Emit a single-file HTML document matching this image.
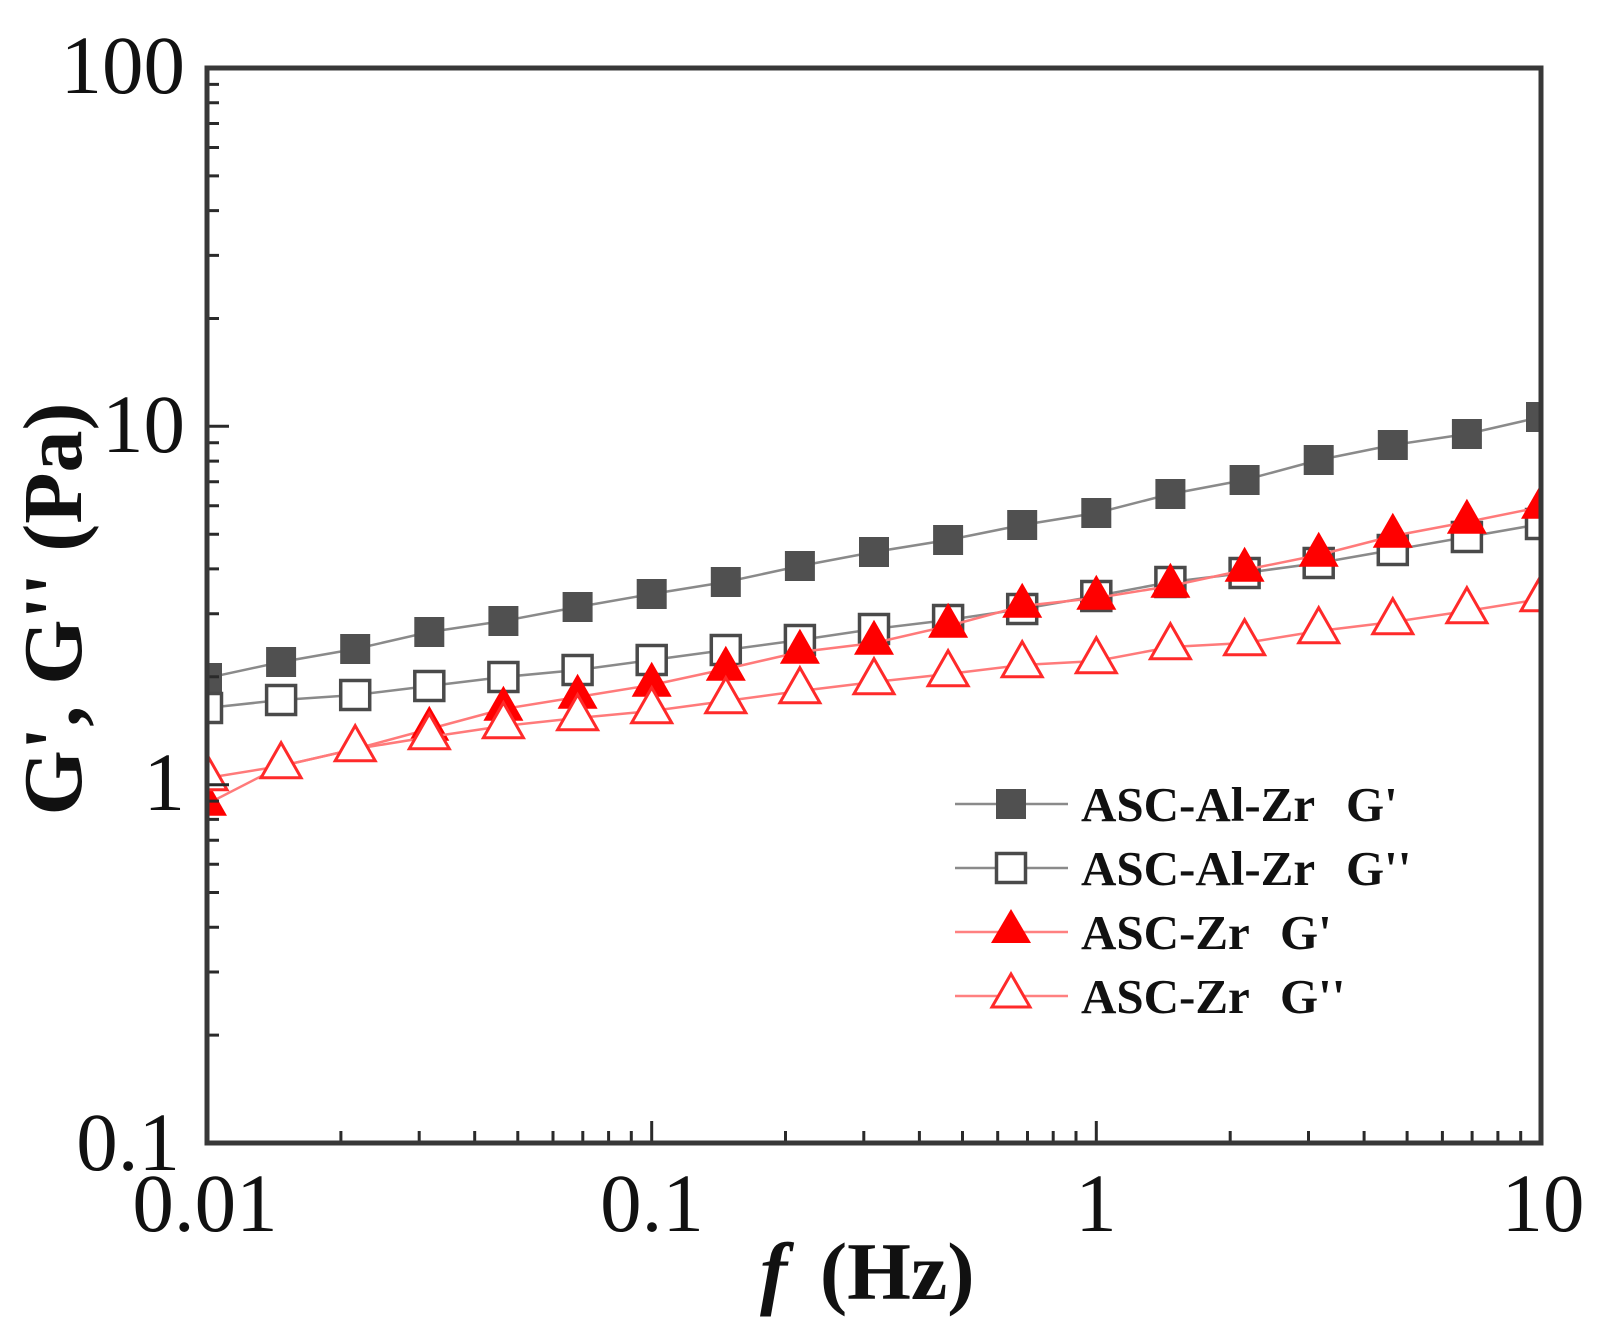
<!DOCTYPE html>
<html>
<head>
<meta charset="utf-8">
<style>
  html,body{margin:0;padding:0;background:#fff;}
  svg{display:block;}
  .tick{font-family:"Liberation Serif","Times New Roman",serif;font-size:83px;fill:#111;}
  .lab{font-family:"Liberation Serif","Times New Roman",serif;font-weight:bold;fill:#111;}
  .leg{font-family:"Liberation Serif","Times New Roman",serif;font-weight:bold;font-size:49px;fill:#111;}
</style>
</head>
<body>
<svg width="1612" height="1332" viewBox="0 0 1612 1332" xmlns="http://www.w3.org/2000/svg" xmlns:xlink="http://www.w3.org/1999/xlink">
  <rect width="1612" height="1332" fill="#fff"/>
  <defs>
    <clipPath id="pa"><rect x="207" y="68" width="1334" height="1075"/></clipPath>
    <rect id="fsq" x="-15" y="-15" width="30" height="30" fill="#505050"/>
    <rect id="osq" x="-14.5" y="-14.5" width="29" height="29" fill="#fff" stroke="#4a4a4a" stroke-width="3.5"/>
    <polygon id="ftr" points="0,-23.3 20,11.7 -20,11.7" fill="#ff0000"/>
    <polygon id="otr" points="0,-23.3 20,11.7 -20,11.7" fill="#fff" stroke="#ff2a2a" stroke-width="3"/>
  </defs>

  <g clip-path="url(#pa)">
    <polyline fill="none" stroke="#8a8a8a" stroke-width="2.5" points="207,678 281.1,662 355.2,649 429.3,632 503.4,621 577.6,607 651.7,594 725.8,582 799.9,566 874,552 948.1,540 1022.2,525 1096.3,513 1170.4,494 1244.6,480 1318.7,460 1392.8,445 1466.9,434 1541,417"/>
    <use xlink:href="#fsq" x="207" y="678"/>
    <use xlink:href="#fsq" x="281.1" y="662"/>
    <use xlink:href="#fsq" x="355.2" y="649"/>
    <use xlink:href="#fsq" x="429.3" y="632"/>
    <use xlink:href="#fsq" x="503.4" y="621"/>
    <use xlink:href="#fsq" x="577.6" y="607"/>
    <use xlink:href="#fsq" x="651.7" y="594"/>
    <use xlink:href="#fsq" x="725.8" y="582"/>
    <use xlink:href="#fsq" x="799.9" y="566"/>
    <use xlink:href="#fsq" x="874" y="552"/>
    <use xlink:href="#fsq" x="948.1" y="540"/>
    <use xlink:href="#fsq" x="1022.2" y="525"/>
    <use xlink:href="#fsq" x="1096.3" y="513"/>
    <use xlink:href="#fsq" x="1170.4" y="494"/>
    <use xlink:href="#fsq" x="1244.6" y="480"/>
    <use xlink:href="#fsq" x="1318.7" y="460"/>
    <use xlink:href="#fsq" x="1392.8" y="445"/>
    <use xlink:href="#fsq" x="1466.9" y="434"/>
    <use xlink:href="#fsq" x="1541" y="417"/>

    <polyline fill="none" stroke="#8a8a8a" stroke-width="2.5" points="207,708 281.1,700 355.2,695 429.3,686 503.4,677 577.6,670 651.7,660 725.8,650 799.9,640 874,629 948.1,620 1022.2,609 1096.3,596 1170.4,582 1244.6,573 1318.7,563 1392.8,550 1466.9,537 1541,524"/>
    <use xlink:href="#osq" x="207" y="708"/>
    <use xlink:href="#osq" x="281.1" y="700"/>
    <use xlink:href="#osq" x="355.2" y="695"/>
    <use xlink:href="#osq" x="429.3" y="686"/>
    <use xlink:href="#osq" x="503.4" y="677"/>
    <use xlink:href="#osq" x="577.6" y="670"/>
    <use xlink:href="#osq" x="651.7" y="660"/>
    <use xlink:href="#osq" x="725.8" y="650"/>
    <use xlink:href="#osq" x="799.9" y="640"/>
    <use xlink:href="#osq" x="874" y="629"/>
    <use xlink:href="#osq" x="948.1" y="620"/>
    <use xlink:href="#osq" x="1022.2" y="609"/>
    <use xlink:href="#osq" x="1096.3" y="596"/>
    <use xlink:href="#osq" x="1170.4" y="582"/>
    <use xlink:href="#osq" x="1244.6" y="573"/>
    <use xlink:href="#osq" x="1318.7" y="563"/>
    <use xlink:href="#osq" x="1392.8" y="550"/>
    <use xlink:href="#osq" x="1466.9" y="537"/>
    <use xlink:href="#osq" x="1541" y="524"/>

    <polyline fill="none" stroke="#ff7a7a" stroke-width="2.5" points="207,804 281.1,766 355.2,749 429.3,729 503.4,709 577.6,697 651.7,685 725.8,669 799.9,652 874,643 948.1,626 1022.2,606 1096.3,598 1170.4,586 1244.6,570 1318.7,555 1392.8,536 1466.9,522 1541,507"/>
    <use xlink:href="#ftr" x="207" y="804"/>
    <use xlink:href="#ftr" x="429.3" y="729"/>
    <use xlink:href="#ftr" x="503.4" y="709"/>
    <use xlink:href="#ftr" x="577.6" y="697"/>
    <use xlink:href="#ftr" x="651.7" y="685"/>
    <use xlink:href="#ftr" x="725.8" y="669"/>
    <use xlink:href="#ftr" x="799.9" y="652"/>
    <use xlink:href="#ftr" x="874" y="643"/>
    <use xlink:href="#ftr" x="948.1" y="626"/>
    <use xlink:href="#ftr" x="1022.2" y="606"/>
    <use xlink:href="#ftr" x="1096.3" y="598"/>
    <use xlink:href="#ftr" x="1170.4" y="586"/>
    <use xlink:href="#ftr" x="1244.6" y="570"/>
    <use xlink:href="#ftr" x="1318.7" y="555"/>
    <use xlink:href="#ftr" x="1392.8" y="536"/>
    <use xlink:href="#ftr" x="1466.9" y="522"/>
    <use xlink:href="#ftr" x="1541" y="507"/>

    <polyline fill="none" stroke="#ff7a7a" stroke-width="2.5" points="207,778 281.1,766 355.2,749 429.3,737 503.4,726 577.6,718 651.7,711 725.8,701 799.9,691 874,682 948.1,674 1022.2,665 1096.3,661 1170.4,647 1244.6,643 1318.7,631 1392.8,622 1466.9,611 1541,599"/>
    <use xlink:href="#otr" x="207" y="778"/>
    <use xlink:href="#otr" x="281.1" y="766"/>
    <use xlink:href="#otr" x="355.2" y="749"/>
    <use xlink:href="#otr" x="429.3" y="737"/>
    <use xlink:href="#otr" x="503.4" y="726"/>
    <use xlink:href="#otr" x="577.6" y="718"/>
    <use xlink:href="#otr" x="651.7" y="711"/>
    <use xlink:href="#otr" x="725.8" y="701"/>
    <use xlink:href="#otr" x="799.9" y="691"/>
    <use xlink:href="#otr" x="874" y="682"/>
    <use xlink:href="#otr" x="948.1" y="674"/>
    <use xlink:href="#otr" x="1022.2" y="665"/>
    <use xlink:href="#otr" x="1096.3" y="661"/>
    <use xlink:href="#otr" x="1170.4" y="647"/>
    <use xlink:href="#otr" x="1244.6" y="643"/>
    <use xlink:href="#otr" x="1318.7" y="631"/>
    <use xlink:href="#otr" x="1392.8" y="622"/>
    <use xlink:href="#otr" x="1466.9" y="611"/>
    <use xlink:href="#otr" x="1541" y="599"/>
  </g>

  <path stroke="#2a2a2a" stroke-width="3" fill="none" d="
    M340.9 1143V1131 M419.2 1143V1131 M474.7 1143V1131 M517.8 1143V1131 M553 1143V1131 M582.8 1143V1131 M608.6 1143V1131 M631.3 1143V1131
    M651.7 1143V1121
    M785.5 1143V1131 M863.8 1143V1131 M919.4 1143V1131 M962.5 1143V1131 M997.7 1143V1131 M1027.5 1143V1131 M1053.2 1143V1131 M1076 1143V1131
    M1096.3 1143V1121
    M1230.2 1143V1131 M1308.5 1143V1131 M1364.1 1143V1131 M1407.1 1143V1131 M1442.4 1143V1131 M1472.1 1143V1131 M1497.9 1143V1131 M1520.7 1143V1131
    M207 1035.1H219 M207 972H219 M207 927.3H219 M207 892.5H219 M207 864.2H219 M207 840.2H219 M207 819.4H219 M207 801.1H219
    M207 784.7H229
    M207 676.8H219 M207 613.7H219 M207 568.9H219 M207 534.2H219 M207 505.8H219 M207 481.8H219 M207 461.1H219 M207 442.7H219
    M207 426.3H229
    M207 318.5H219 M207 255.4H219 M207 210.6H219 M207 175.9H219 M207 147.5H219 M207 123.5H219 M207 102.7H219 M207 84.4H219
  "/>

  <rect x="207" y="68" width="1334" height="1075" fill="none" stroke="#383838" stroke-width="5"/>

  <text class="tick" x="185" y="93" text-anchor="end">100</text>
  <text class="tick" x="185" y="452" text-anchor="end">10</text>
  <text class="tick" x="185" y="810" text-anchor="end">1</text>
  <text class="tick" x="180" y="1170" text-anchor="end">0.1</text>

  <text class="tick" x="205" y="1231" text-anchor="middle">0.01</text>
  <text class="tick" x="652" y="1231" text-anchor="middle">0.1</text>
  <text class="tick" x="1096" y="1231" text-anchor="middle">1</text>
  <text class="tick" x="1543" y="1231" text-anchor="middle">10</text>

  <text class="lab" font-size="84" x="81" y="609" text-anchor="middle" transform="rotate(-90 81 609)">G', G'' (Pa)</text>
  <text class="lab" font-size="82" x="760" y="1299"><tspan font-style="italic">f</tspan><tspan dx="12"> (Hz)</tspan></text>

  <line x1="955" y1="804" x2="1068" y2="804" stroke="#8a8a8a" stroke-width="2.5"/>
  <rect x="996" y="789" width="30" height="30" fill="#505050"/>
  <text class="leg" x="1081" y="821">ASC-Al-Zr</text><text class="leg" x="1346" y="821">G'</text>

  <line x1="955" y1="868" x2="1068" y2="868" stroke="#8a8a8a" stroke-width="2.5"/>
  <rect x="996.5" y="853.5" width="29" height="29" fill="#fff" stroke="#4a4a4a" stroke-width="3.5"/>
  <text class="leg" x="1081" y="885">ASC-Al-Zr</text><text class="leg" x="1346" y="885">G''</text>

  <line x1="955" y1="932" x2="1068" y2="932" stroke="#ff8080" stroke-width="2.5"/>
  <polygon points="1011,909 1031,943 991,943" fill="#ff0000"/>
  <text class="leg" x="1081" y="949">ASC-Zr</text><text class="leg" x="1280" y="949">G'</text>

  <line x1="955" y1="996" x2="1068" y2="996" stroke="#ff8080" stroke-width="2.5"/>
  <polygon points="1011,974 1030,1007 992,1007" fill="#fff" stroke="#ff2a2a" stroke-width="3"/>
  <text class="leg" x="1081" y="1013">ASC-Zr</text><text class="leg" x="1280" y="1013">G''</text>
</svg>
</body>
</html>
